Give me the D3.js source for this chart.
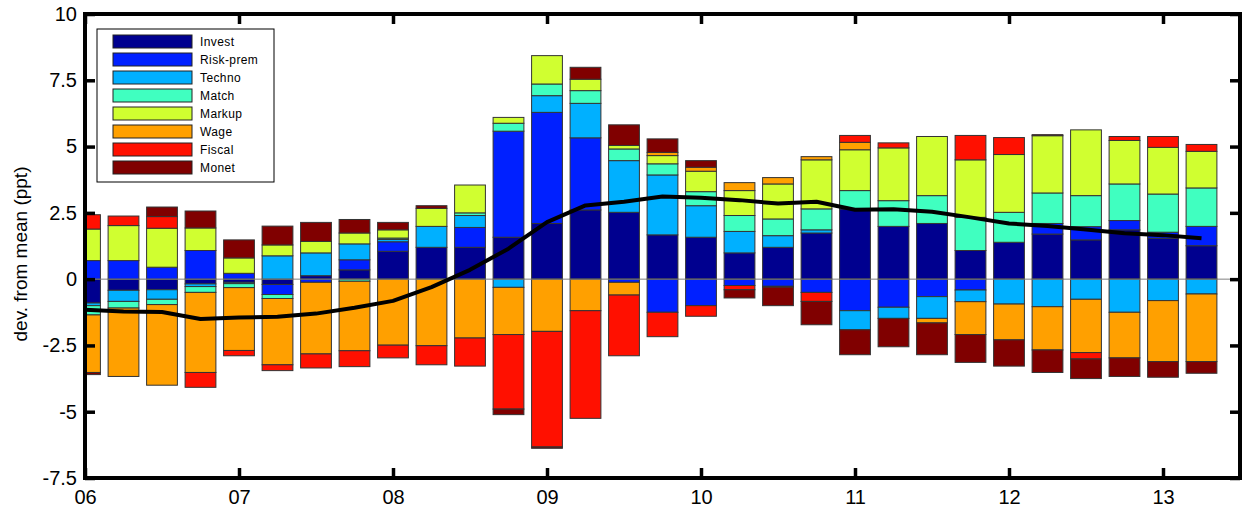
<!DOCTYPE html>
<html>
<head>
<meta charset="utf-8">
<title>Historical decomposition</title>
<script src="https://cdn.jsdelivr.net/npm/d3@7"></script>
<style>
  html, body { margin: 0; padding: 0; background: #fff; }
  svg { display: block; font-family: "Liberation Sans", Arial, sans-serif; }
  .tick text { fill: #000; }
</style>
</head>
<body>
<div id="chart"></div>
<script>
// quarters 2006Q1 .. 2013Q2
var quarters = ["06Q1","06Q2","06Q3","06Q4","07Q1","07Q2","07Q3","07Q4",
                "08Q1","08Q2","08Q3","08Q4","09Q1","09Q2","09Q3","09Q4",
                "10Q1","10Q2","10Q3","10Q4","11Q1","11Q2","11Q3","11Q4",
                "12Q1","12Q2","12Q3","12Q4","13Q1","13Q2"];

var shockNames = ["Invest", "Risk-prem", "Techno", "Match", "Markup", "Wage", "Fiscal", "Monet"];

// contributions of each shock, ppt
var invest   = [-0.90,-0.42,-0.40,-0.18,-0.12,-0.20, 0.13, 0.35, 1.05, 1.20, 1.20, 1.58, 2.10, 2.61, 2.52,
                 1.67, 1.58, 0.99, 1.20, 1.74, 2.65, 1.99, 2.10, 1.08, 1.39, 1.70, 1.48, 1.86, 1.54, 1.26];
var riskPrem = [ 0.70, 0.70, 0.45, 1.08, 0.22,-0.38,-0.12, 0.38, 0.36, 0.00, 0.75, 4.00, 4.19, 2.72,-0.12,
                -1.25,-1.00,-0.24,-0.27,-0.50,-1.19,-1.06,-0.66,-0.41, 0.00, 0.40, 0.50, 0.35, 0.23, 0.73];
var techno   = [-0.10,-0.42,-0.36,-0.10,-0.05, 0.88, 0.86, 0.60, 0.09, 0.79, 0.45,-0.31, 0.63, 1.30, 1.95,
                 2.26, 1.19, 0.81, 0.44, 0.12,-0.72,-0.42,-0.82,-0.44,-0.94,-1.04,-0.76,-1.25,-0.81,-0.56];
var match    = [-0.35,-0.25,-0.20,-0.22,-0.15,-0.15, 0.00,-0.08, 0.05, 0.00, 0.10, 0.30, 0.44, 0.48, 0.44,
                 0.42, 0.53, 0.60, 0.63, 0.79, 0.69, 0.97, 1.05, 1.25, 1.13, 1.15, 1.17, 1.38, 1.44, 1.45];
var markup   = [ 1.19, 1.32, 1.47, 0.85, 0.58, 0.41, 0.43, 0.41, 0.31, 0.68, 1.05, 0.22, 1.07, 0.43, 0.13,
                 0.31, 0.77, 0.94, 1.32, 1.85, 1.54, 1.99, 2.23, 2.17, 2.18, 2.16, 2.48, 1.64, 1.76, 1.38];
var wage     = [-2.17,-2.58,-3.04,-3.02,-2.37,-2.50,-2.70,-2.62,-2.49,-2.51,-2.22,-1.78,-1.97,-1.19,-0.48,
                 0.12, 0.15, 0.30, 0.24, 0.12, 0.28, 0.00,-0.17,-1.24,-1.35,-1.63,-2.01,-1.72,-2.30,-2.55];
var fiscal   = [ 0.54, 0.36, 0.44,-0.56,-0.20,-0.22,-0.53,-0.60,-0.48,-0.72,-1.06,-2.81,-4.36,-4.06,-2.29,
                -0.92,-0.40,-0.16,-0.03,-0.34, 0.26, 0.19, 0.00, 0.92, 0.64, 0.04,-0.24, 0.15, 0.41, 0.26];
var monet    = [-0.08, 0.00, 0.36, 0.64, 0.68, 0.71, 0.72, 0.51, 0.28, 0.10, 0.00,-0.21,-0.05, 0.45, 0.78,
                 0.51, 0.25,-0.31,-0.70,-0.88,-0.94,-1.07,-1.20,-1.05,-0.99,-0.85,-0.74,-0.70,-0.59,-0.44];

// observed series, dev. from mean (ppt)
var observed = [-1.15,-1.22,-1.24,-1.50,-1.45,-1.42,-1.30,-1.08,-0.82,-0.30, 0.35, 1.15, 2.15, 2.78, 2.92,
                 3.12, 3.07, 2.98, 2.85, 2.92, 2.62, 2.64, 2.54, 2.33, 2.10, 2.00, 1.87, 1.73, 1.66, 1.54];

var xTicks = [2006, 2007, 2008, 2009, 2010, 2011, 2012, 2013];
var xTickLabels = ["06", "07", "08", "09", "10", "11", "12", "13"];
var yTicks = [-7.5, -5, -2.5, 0, 2.5, 5, 7.5, 10];

(function (window) {

  var width = 1243,
      height = 511,

      // plot box, in pixels
      box = { left: 85, right: 1240, top: 14, bottom: 478 },

      colors = ["#00008f", "#0020ff", "#00b0ff", "#40ffc0",
                "#d0ff30", "#ffa000", "#ff1000", "#800000"],

      series = [invest, riskPrem, techno, match, markup, wage, fiscal, monet],

      svg, x, y, rows, stacked;

  // one row per quarter, keyed by shock name
  rows = quarters.map(function (q, i) {
    var r = { t: 2006 + i / 4 };
    shockNames.forEach(function (name, k) { r[name] = series[k][i]; });
    return r;
  });

  // positive and negative pieces stack separately, like matlab's bar 'stack'
  stacked = d3.stack()
    .keys(shockNames)
    .offset(d3.stackOffsetDiverging)(rows);

  x = d3.scaleLinear().domain([2006, 2013.5]).range([box.left, box.right]);
  y = d3.scaleLinear().domain([-7.5, 10]).range([box.bottom, box.top]);

  svg = d3.select("#chart").append("svg")
    .attr("width", width)
    .attr("height", height);

  svg.append("clipPath").attr("id", "plotclip")
    .append("rect")
      .attr("x", box.left).attr("y", box.top)
      .attr("width", box.right - box.left)
      .attr("height", box.bottom - box.top);

  // ------------------------------------------------------------
  // bars
  // ------------------------------------------------------------
  var barW = (x(2006.25) - x(2006)) * 0.8;

  svg.append("g")
    .attr("clip-path", "url(#plotclip)")
    .selectAll("g")
    .data(stacked)
    .enter().append("g")
      .attr("fill", function (d, k) { return colors[k]; })
    .selectAll("rect")
    .data(function (d) { return d.filter(function (p) { return p[1] !== p[0]; }); })
    .enter().append("rect")
      .attr("x", function (p) { return x(p.data.t) - barW / 2; })
      .attr("width", barW)
      .attr("y", function (p) { return y(Math.max(p[0], p[1])); })
      .attr("height", function (p) { return Math.abs(y(p[0]) - y(p[1])); })
      .attr("stroke", "#333")
      .attr("stroke-width", 1);

  // baseline
  svg.append("line")
    .attr("x1", box.left).attr("x2", box.right)
    .attr("y1", y(0)).attr("y2", y(0))
    .attr("stroke", "#808080")
    .attr("stroke-width", 1);

  // observed series
  svg.append("path")
    .datum(observed)
    .attr("fill", "none")
    .attr("stroke", "#000")
    .attr("stroke-width", 4)
    .attr("stroke-linejoin", "round")
    .attr("d", d3.line()
      .x(function (v, i) { return x(2006 + i / 4); })
      .y(function (v) { return y(v); }));

  // ------------------------------------------------------------
  // legend
  // ------------------------------------------------------------
  var legend = svg.append("g").attr("transform", "translate(97,29)");

  legend.append("rect")
    .attr("width", 177).attr("height", 153)
    .attr("fill", "#fff")
    .attr("stroke", "#000")
    .attr("stroke-width", 1);

  var item = legend.selectAll("g.item")
    .data(shockNames)
    .enter().append("g")
      .attr("class", "item")
      .attr("transform", function (d, k) { return "translate(0," + (12.5 + 18 * k) + ")"; });

  item.append("rect")
    .attr("x", 16).attr("y", -6.5)
    .attr("width", 79).attr("height", 13)
    .attr("fill", function (d, k) { return colors[k]; })
    .attr("stroke", "#222")
    .attr("stroke-width", 1);

  item.append("text")
    .attr("x", 103).attr("y", 4.5)
    .attr("font-size", 12)
    .attr("letter-spacing", 0.4)
    .text(function (d) { return d; });

  // ------------------------------------------------------------
  // axes, ticks inside on all four sides
  // ------------------------------------------------------------
  function styleAxis(g) {
    g.select(".domain").remove();
    g.selectAll(".tick line").attr("stroke", "#000").attr("stroke-width", 3.5);
    g.selectAll(".tick text").attr("font-size", 20);
  }

  svg.append("g")
    .attr("transform", "translate(0," + box.bottom + ")")
    .call(d3.axisBottom(x).tickValues(xTicks).tickSize(-10).tickPadding(12)
      .tickFormat(function (d, i) { return xTickLabels[i]; }))
    .call(styleAxis);

  svg.append("g")
    .attr("transform", "translate(0," + box.top + ")")
    .call(d3.axisTop(x).tickValues(xTicks).tickSize(-10).tickFormat(""))
    .call(styleAxis);

  // plain hyphen for negatives, as in the original
  svg.append("g")
    .attr("transform", "translate(" + box.left + ",0)")
    .call(d3.axisLeft(y).tickValues(yTicks).tickSize(-10).tickPadding(8)
      .tickFormat(function (d) { return String(d); }))
    .call(styleAxis);

  svg.append("g")
    .attr("transform", "translate(" + box.right + ",0)")
    .call(d3.axisRight(y).tickValues(yTicks).tickSize(-10).tickFormat(""))
    .call(styleAxis);

  svg.append("rect")
    .attr("x", box.left).attr("y", box.top)
    .attr("width", box.right - box.left)
    .attr("height", box.bottom - box.top)
    .attr("fill", "none")
    .attr("stroke", "#000")
    .attr("stroke-width", 4);

  svg.append("text")
    .attr("transform", "translate(27,254) rotate(-90)")
    .attr("text-anchor", "middle")
    .attr("font-size", 19)
    .text("dev. from mean (ppt)");

})(window);
</script>
</body>
</html>
